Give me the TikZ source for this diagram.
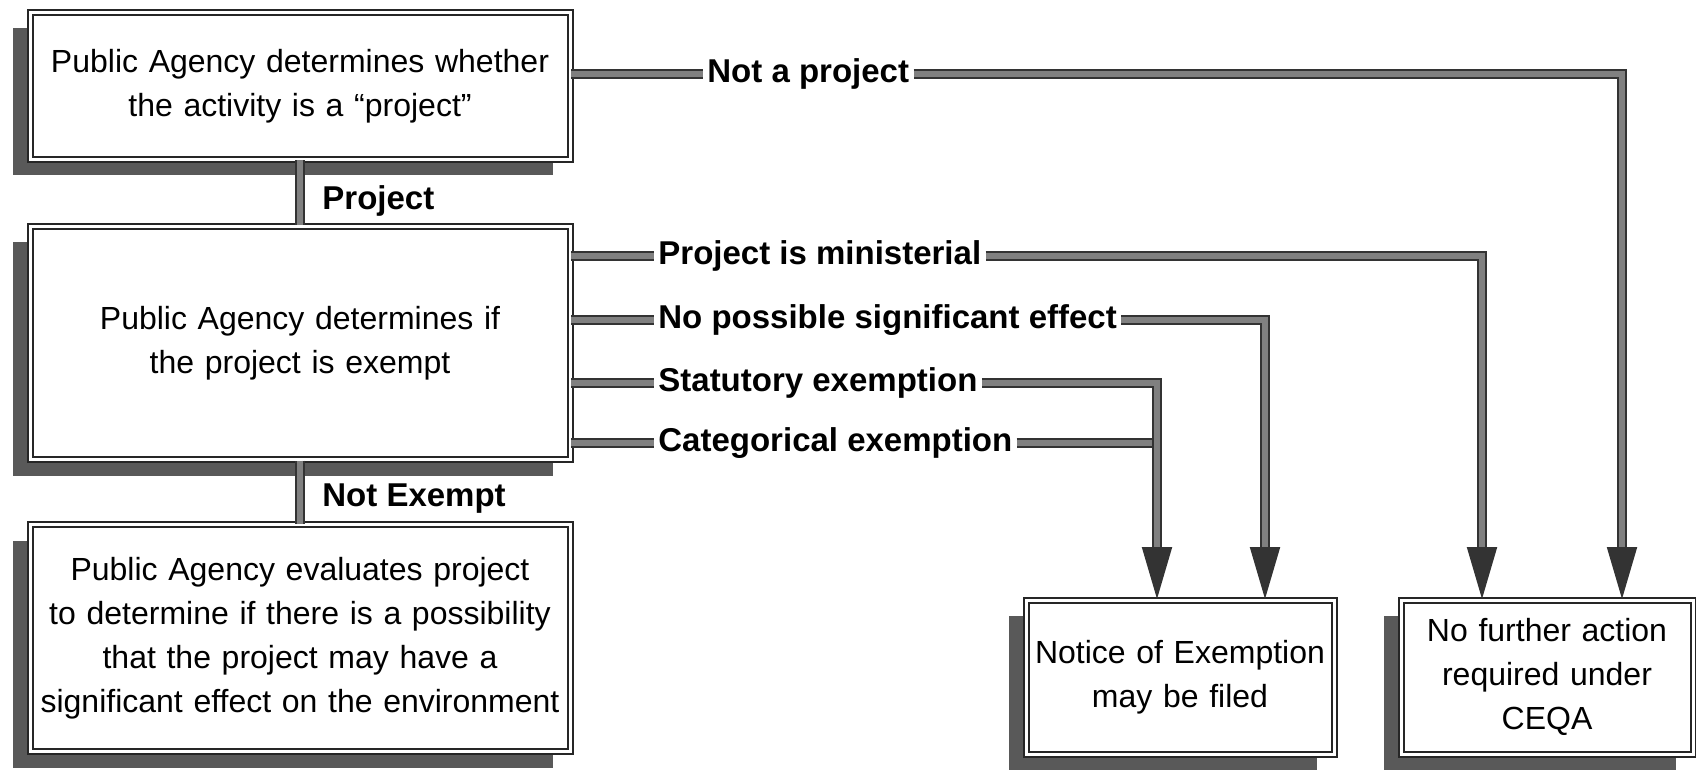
\documentclass[tikz,border=0pt]{standalone}
\usepackage{fontspec}
\setmainfont{Liberation Sans}
\usetikzlibrary{arrows.meta,shadows}

\begin{document}
\begin{tikzpicture}[x=0.5pt,y=-0.5pt,
	stepbox/.style={draw=black!85, line width=1pt, double=white, double distance=1.5pt, fill=white,
		drop shadow={shadow xshift=-8.5pt, shadow yshift=-8pt, fill=black!65, opacity=1},
		align=center, inner sep=4pt, font=\fontsize{16}{22}\selectfont},
	flow/.style={draw=black!80, line width=1pt, double=black!50, double distance=2.8pt},
	tip/.style={-{Triangle[length=26pt,width=15pt]}},
	lbl/.style={font=\bfseries\fontsize{16.5}{20}\selectfont, inner sep=2pt}]
	\useasboundingbox (0,0) rectangle (1696,770);

	% boxes
	\node[stepbox, minimum width=270pt, minimum height=73.5pt, text width=262pt] (activity) at (300,86)
		{Public Agency determines whether\\the activity is a ``project''};
	\node[stepbox, minimum width=270pt, minimum height=116.5pt, text width=262pt] (exempt) at (300,343)
		{Public Agency determines if\\the project is exempt};
	\node[stepbox, minimum width=270pt, minimum height=113.5pt, text width=262pt] (evaluate) at (300,638)
		{Public Agency evaluates project\\to determine if there is a possibility\\that the project may have a\\significant effect on the environment};
	\node[stepbox, minimum width=153pt, minimum height=77pt, text width=146pt] (notice) at (1180,677)
		{Notice of Exemption\\may be filed};
	\node[stepbox, minimum width=146pt, minimum height=77pt, text width=138pt] (nofurther) at (1547,677)
		{No further action\\required under\\CEQA};

	% labels on the connectors
	\node[lbl, anchor=west] (isproject) at (318,201) {Project};
	\node[lbl, anchor=west] (notexempt) at (318,499) {Not Exempt};
	\node[lbl, anchor=west] (notproject) at (703,74) {Not a project};
	\node[lbl, anchor=west] (ministerial) at (654,256) {Project is ministerial};
	\node[lbl, anchor=west] (noeffect) at (654,320) {No possible significant effect};
	\node[lbl, anchor=west] (statutory) at (654,383) {Statutory exemption};
	\node[lbl, anchor=west] (categorical) at (654,443) {Categorical exemption};
	\coordinate (join) at ([xshift=-11.5pt]notice.north);

	% connectors
	\draw[flow] (activity.south) -- (exempt.north);
	\draw[flow] (exempt.south) -- (evaluate.north);
	\draw[flow] ([yshift=6pt]activity.east) -- (notproject.west);
	\draw[flow,tip] (notproject.east) -| ([xshift=37.5pt]nofurther.north);
	\draw[flow] ([yshift=43.5pt]exempt.east) -- (ministerial.west);
	\draw[flow,tip] (ministerial.east) -| ([xshift=-32.5pt]nofurther.north);
	\draw[flow] ([yshift=11.5pt]exempt.east) -- (noeffect.west);
	\draw[flow,tip] (noeffect.east) -| ([xshift=42.5pt]notice.north);
	\draw[flow] ([yshift=-50pt]exempt.east) -- (categorical.west);
	\draw[flow] (categorical.east) -- (categorical.east -| join);
	\draw[flow] ([yshift=-20pt]exempt.east) -- (statutory.west);
	\draw[flow,tip] (statutory.east) -| (join);
\end{tikzpicture}
\end{document}
